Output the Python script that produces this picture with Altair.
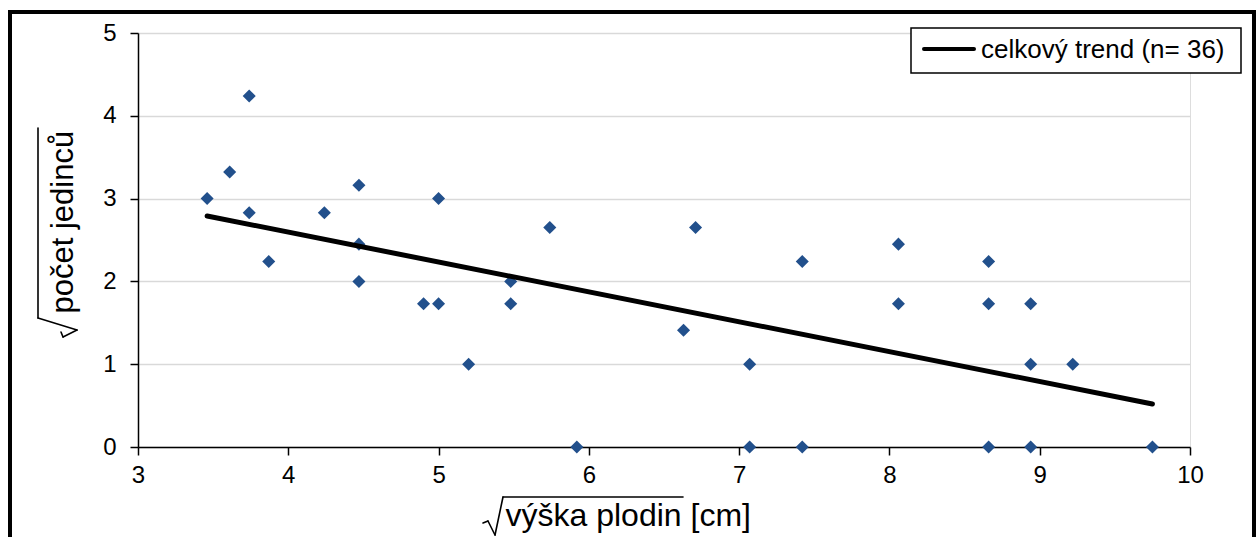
import altair as alt
import pandas as pd

# Square-root transformed crop height (x) and number of individuals (y)
sqrt_height = [3.46, 3.61, 3.74, 3.74, 3.87, 4.24, 4.47, 4.47, 4.47, 4.90, 5.00,
               5.00, 5.20, 5.48, 5.48, 5.74, 5.92, 6.63, 6.71, 7.07, 7.07, 7.42,
               7.42, 8.06, 8.06, 8.66, 8.66, 8.66, 8.94, 8.94, 8.94, 9.22, 9.75]
sqrt_count = [3.00, 3.32, 4.24, 2.83, 2.24, 2.83, 3.16, 2.45, 2.00, 1.73, 3.00,
              1.73, 1.00, 2.00, 1.73, 2.65, 0.00, 1.41, 2.65, 1.00, 0.00, 2.24,
              0.00, 2.45, 1.73, 2.24, 1.73, 0.00, 1.73, 1.00, 0.00, 1.00, 0.00]

# Overall linear trend, end points
trend_x = [3.46, 9.75]
trend_y = [2.79, 0.52]
trend_label = "celkový trend (n= 36)"

x_ticks = [3, 4, 5, 6, 7, 8, 9, 10]
y_ticks = [0, 1, 2, 3, 4, 5]

FONT = "Liberation Sans"
W, H = 1052, 414

points = pd.DataFrame({"x": sqrt_height, "y": sqrt_count})
trend = pd.DataFrame({"x": trend_x, "y": trend_y})
one = pd.DataFrame({"k": [0]})

x_scale = alt.Scale(domain=[3, 10], nice=False, zero=False)
y_scale = alt.Scale(domain=[0, 5], nice=False, zero=True)

x_axis = alt.Axis(
    values=x_ticks, format="d", grid=False, labelFlush=False,
    domainColor="black", domainWidth=1.5,
    tickColor="black", tickSize=8, tickWidth=1.5,
    labelFont=FONT, labelFontSize=24, labelColor="black", labelPadding=8,
    title="výška plodin [cm]", titleFont=FONT, titleFontSize=32,
    titleFontWeight="normal", titleColor="black",
    titleAnchor="start", titleAlign="left", titleX=367, titleY=78,
    titleBaseline="alphabetic",
)
y_axis = alt.Axis(
    values=y_ticks, format="d", grid=True, labelFlush=False,
    gridColor="#d9d9d9", gridWidth=1.5,
    domainColor="black", domainWidth=1.5,
    tickColor="black", tickSize=8, tickWidth=1.5,
    labelFont=FONT, labelFontSize=24, labelColor="black", labelPadding=14,
    title="počet jedinců", titleFont=FONT, titleFontSize=31,
    titleFontWeight="normal", titleColor="black", titleAngle=270,
    titleAnchor="start", titleAlign="left", titleX=-66, titleY=280,
    titleBaseline="alphabetic",
)

pts = alt.Chart(points).mark_point(
    shape="diamond", filled=True, size=170, color="#22508c", opacity=1
).encode(
    x=alt.X("x:Q", scale=x_scale, axis=x_axis),
    y=alt.Y("y:Q", scale=y_scale, axis=y_axis),
)

line = alt.Chart(trend).mark_line(color="black", strokeWidth=5, strokeCap="round").encode(
    x=alt.X("x:Q", scale=x_scale),
    y=alt.Y("y:Q", scale=y_scale),
)


def stroke(x1, y1, x2, y2, width=1.6):
    """One straight pen stroke, in pixels relative to the plot origin."""
    return alt.Chart(one).mark_rule(color="black", strokeWidth=width, strokeCap="round").encode(
        x=alt.value(x1), y=alt.value(y1), x2=alt.value(x2), y2=alt.value(y2)
    )


# Square-root signs over both axis titles (serif, short leg, long leg, bar)
y_root = [
    stroke(-77, 299, -75, 304),
    stroke(-75, 304, -61, 297),
    stroke(-61, 297, -100, 285),
    stroke(-100, 285, -100, 95),
]
x_root = [
    stroke(345, 490, 350, 488),
    stroke(350, 488, 357, 502),
    stroke(357, 502, 365, 464),
    stroke(365, 464, 545, 464),
]

# Legend box for the trend line
leg_box = alt.Chart(one).mark_rect(fill="white", stroke="black", strokeWidth=1.5).encode(
    x=alt.value(773), x2=alt.value(1103), y=alt.value(-5), y2=alt.value(40)
)
leg_line = alt.Chart(one).mark_rule(color="black", strokeWidth=4, strokeCap="round").encode(
    x=alt.value(786), x2=alt.value(836), y=alt.value(16)
)
leg_text = alt.Chart(one).mark_text(
    text=trend_label, font=FONT, fontSize=26, align="left",
    baseline="alphabetic", color="black",
).encode(x=alt.value(843), y=alt.value(25))

# Outer chart frame
frame = alt.Chart(one).mark_rect(fill=None, stroke="black", strokeWidth=4).encode(
    x=alt.value(-128), x2=alt.value(1116), y=alt.value(-21), y2=alt.value(520)
)

chart = alt.layer(
    frame, pts, line, *y_root, *x_root, leg_box, leg_line, leg_text
).properties(
    width=W, height=H,
    autosize=alt.AutoSizeParams(type="none"),
    padding={"left": 138, "top": 33, "right": 70, "bottom": 90},
).configure_view(stroke=None).configure(background="white")

chart.save("out.html", embed_options={"renderer": "svg", "actions": False})
